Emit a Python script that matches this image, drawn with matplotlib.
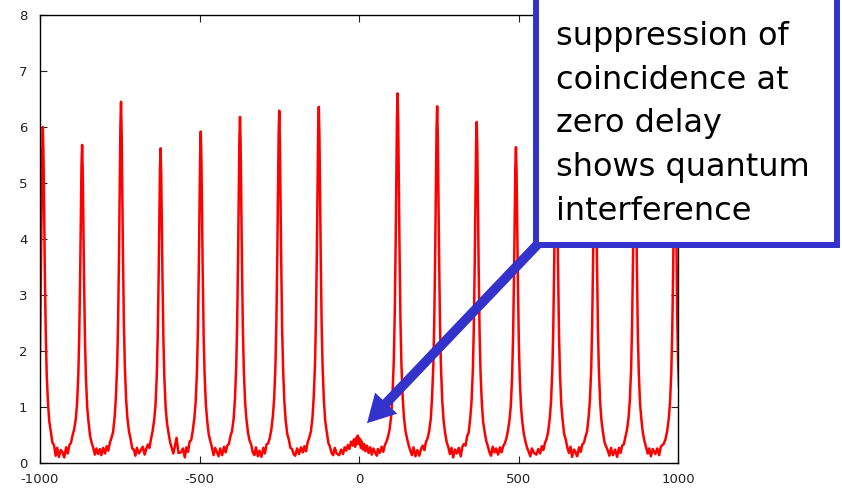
import matplotlib
matplotlib.use("Agg")
import matplotlib.pyplot as plt
from matplotlib.patches import Rectangle
from matplotlib.transforms import IdentityTransform

# delay of each coincidence peak (ns-ish units of the x axis)
peak_centers = [-991, -868, -746, -622, -496, -373, -250, -126, 0,
                121, 245, 369, 492, 618, 740, 865, 991]

# sample offsets around each peak centre
offsets = [-62, -56, -50, -45, -40, -35, -30, -25, -20, -16, -12, -9, -6, -4, -2,
           0, 2, 4, 6, 9, 12, 16, 20, 25, 30, 35, 40, 45, 50, 56]

# coincidence counts, one row per peak
counts = [
    [0.25, 0.14, 0.22, 0.32, 0.24, 0.37, 0.42, 0.60, 0.83, 1.12, 1.62, 2.00, 3.55, 4.65, 5.55, 6.00, 5.45, 4.55, 3.45, 2.35, 1.58, 1.08, 0.75, 0.55, 0.36, 0.32, 0.13, 0.27, 0.11, 0.23],
    [0.20, 0.10, 0.28, 0.17, 0.32, 0.36, 0.49, 0.60, 0.78, 1.04, 1.56, 2.27, 3.41, 4.36, 5.30, 5.68, 5.21, 4.26, 3.31, 2.18, 1.52, 0.99, 0.74, 0.48, 0.36, 0.27, 0.15, 0.26, 0.16, 0.25],
    [0.14, 0.27, 0.17, 0.30, 0.22, 0.36, 0.45, 0.55, 0.82, 1.18, 1.77, 2.58, 3.87, 4.95, 6.02, 6.45, 5.91, 4.84, 3.76, 2.47, 1.72, 1.13, 0.80, 0.56, 0.43, 0.26, 0.24, 0.13, 0.27, 0.17],
    [0.23, 0.29, 0.15, 0.25, 0.33, 0.27, 0.43, 0.57, 0.77, 1.03, 1.55, 2.25, 3.37, 4.31, 5.25, 5.62, 5.15, 4.22, 3.28, 2.16, 1.50, 0.98, 0.72, 0.53, 0.37, 0.27, 0.17, 0.30, 0.45, 0.18],
    [0.19, 0.26, 0.10, 0.28, 0.20, 0.38, 0.41, 0.58, 0.81, 1.09, 1.63, 2.37, 3.55, 4.54, 5.53, 5.92, 5.43, 4.44, 3.45, 2.27, 1.58, 1.04, 0.76, 0.51, 0.39, 0.28, 0.14, 0.27, 0.20, 0.12],
    [0.26, 0.14, 0.29, 0.19, 0.31, 0.34, 0.48, 0.57, 0.79, 1.13, 1.70, 2.47, 3.71, 4.74, 5.77, 6.18, 5.67, 4.64, 3.61, 2.37, 1.65, 1.08, 0.79, 0.54, 0.40, 0.33, 0.19, 0.14, 0.28, 0.12],
    [0.22, 0.11, 0.27, 0.17, 0.33, 0.35, 0.44, 0.59, 0.84, 1.15, 1.73, 2.52, 3.77, 4.82, 5.87, 6.29, 5.76, 4.72, 3.67, 2.41, 1.68, 1.10, 0.77, 0.52, 0.42, 0.27, 0.25, 0.16, 0.13, 0.26],
    [0.16, 0.28, 0.19, 0.30, 0.21, 0.37, 0.45, 0.56, 0.80, 1.17, 1.75, 2.54, 3.82, 4.88, 5.94, 6.36, 5.83, 4.77, 3.71, 2.44, 1.70, 1.11, 0.76, 0.55, 0.36, 0.29, 0.18, 0.14, 0.27, 0.17],
    [0.14, 0.24, 0.16, 0.28, 0.22, 0.32, 0.25, 0.38, 0.31, 0.42, 0.29, 0.45, 0.34, 0.49, 0.37, 0.45, 0.33, 0.42, 0.27, 0.38, 0.24, 0.34, 0.21, 0.31, 0.18, 0.28, 0.15, 0.26, 0.19, 0.13],
    [0.25, 0.18, 0.29, 0.20, 0.32, 0.38, 0.47, 0.60, 0.85, 1.21, 1.82, 2.64, 3.96, 5.06, 6.16, 6.60, 6.05, 4.95, 3.85, 2.53, 1.76, 1.16, 0.81, 0.56, 0.43, 0.31, 0.22, 0.14, 0.28, 0.12],
    [0.23, 0.13, 0.26, 0.31, 0.23, 0.38, 0.44, 0.57, 0.79, 1.17, 1.75, 2.55, 3.82, 4.88, 5.95, 6.37, 5.84, 4.78, 3.72, 2.44, 1.70, 1.11, 0.77, 0.53, 0.37, 0.28, 0.16, 0.27, 0.10, 0.24],
    [0.17, 0.27, 0.12, 0.29, 0.34, 0.31, 0.48, 0.55, 0.82, 1.12, 1.67, 2.44, 3.65, 4.67, 5.68, 6.09, 5.58, 4.57, 3.55, 2.33, 1.62, 1.07, 0.74, 0.55, 0.39, 0.30, 0.19, 0.13, 0.29, 0.19],
    [0.26, 0.15, 0.28, 0.19, 0.30, 0.35, 0.44, 0.58, 0.78, 1.03, 1.55, 2.26, 3.38, 4.32, 5.26, 5.64, 5.17, 4.23, 3.29, 2.16, 1.50, 0.99, 0.73, 0.51, 0.38, 0.27, 0.20, 0.12, 0.26, 0.18],
    [0.15, 0.25, 0.17, 0.30, 0.23, 0.36, 0.43, 0.56, 0.80, 1.10, 1.65, 2.40, 3.60, 4.60, 5.60, 6.00, 5.50, 4.50, 3.50, 2.30, 1.60, 1.05, 0.78, 0.52, 0.42, 0.28, 0.18, 0.29, 0.11, 0.24],
    [0.20, 0.12, 0.28, 0.20, 0.33, 0.36, 0.47, 0.57, 0.83, 1.14, 1.70, 2.48, 3.72, 4.75, 5.79, 6.20, 5.68, 4.65, 3.62, 2.38, 1.65, 1.08, 0.76, 0.54, 0.36, 0.29, 0.22, 0.13, 0.27, 0.14],
    [0.24, 0.11, 0.27, 0.18, 0.31, 0.33, 0.46, 0.59, 0.81, 1.12, 1.68, 2.44, 3.66, 4.68, 5.69, 6.10, 5.59, 4.58, 3.56, 2.34, 1.63, 1.07, 0.79, 0.53, 0.39, 0.28, 0.17, 0.26, 0.12, 0.25],
    [0.16, 0.26, 0.14, 0.29, 0.32, 0.35, 0.43, 0.57, 0.79, 1.08, 1.62, 2.36, 3.54, 4.52, 5.50, 5.90, 5.20, 3.90, 2.80, 1.85, 1.40, 1.03, 0.75, 0.50, 0.38, 0.30, 0.22, 0.25, 0.18, 0.21],
]

note = "suppression of\ncoincidence at\nzero delay\nshows quantum\ninterference"

delay = []
coinc = []
for c, row in zip(peak_centers, counts):
    for d, v in zip(offsets, row):
        delay.append(c + d)
        coinc.append(v)

plt.rcParams['axes.unicode_minus'] = False
blue = '#3333cc'

fig = plt.figure(figsize=(8.42, 4.88), dpi=100)
ax = fig.add_axes([40/842, 25/488, 638/842, 448/488])
ax.plot(delay, coinc, color='#ff0000', lw=1.8)
ax.set_xlim(-1000, 1000)
ax.set_ylim(0, 8)
ax.set_xticks([-1000, -500, 0, 500, 1000])
ax.set_yticks(range(0, 9))
ax.tick_params(direction='in', top=True, right=True, length=5, width=0.8,
               labelsize=9.5, colors='#222222')
ax.tick_params(axis='x', pad=7)
ax.tick_params(axis='y', pad=9)
for s in ax.spines.values():
    s.set_linewidth(1.0)

# callout box and arrow
px = IdentityTransform()
ax.annotate('', xy=(25, 0.71), xycoords='data',
            xytext=(537, 488 - 245), textcoords='figure pixels',
            arrowprops=dict(facecolor=blue, edgecolor='none', width=7,
                            headwidth=22, headlength=20, shrink=0),
            annotation_clip=False, zorder=6)
box = Rectangle((536, 243), 301, 250, transform=px, facecolor='white',
                edgecolor=blue, lw=4.3, zorder=5)
fig.add_artist(box)
fig.text(556, 467, note, transform=px, fontsize=23, va='top', ha='left',
         linespacing=1.53, color='black', zorder=7)

fig.savefig('out.png', dpi=100)
